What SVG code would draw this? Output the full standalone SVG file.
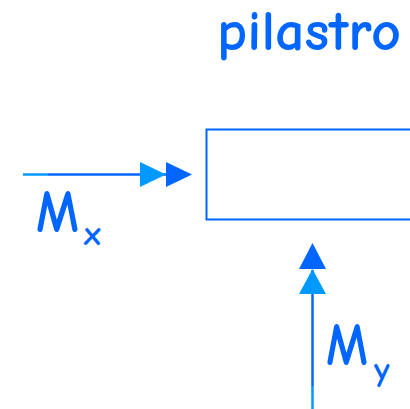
<svg xmlns="http://www.w3.org/2000/svg" width="410" height="409" viewBox="0 0 410 409">
<style>
.t{font-family:"Comic Neue","DejaVu Sans","Noto Sans",sans-serif;fill:#0066FF;font-weight:700}
.dk{stroke:#0066FF;stroke-width:2.5;fill:none}
.lt{stroke:#0099FF;stroke-width:2.5;fill:none}
</style>
<rect width="410" height="409" fill="#fff"/>
<g id="pilastro">
<rect x="206.5" y="129.5" width="220" height="90" fill="none" stroke="#0066FF" stroke-width="2"/>
<text class="t" x="217" y="50" font-size="56" textLength="184" lengthAdjust="spacingAndGlyphs">pilastro</text>
</g>
<g id="connectors">
<line class="lt" x1="23" y1="174.5" x2="48" y2="174.5"/>
<line class="dk" x1="48" y1="174.5" x2="168" y2="174.5"/>
<polygon points="140,162 166,174.5 140,187" fill="#0099FF"/>
<polygon points="166,162 192,174.5 166,187" fill="#0066FF"/>
<line class="lt" x1="312.5" y1="386" x2="312.5" y2="409"/>
<line class="dk" x1="312.5" y1="270" x2="312.5" y2="386"/>
<polygon points="299,294 312.5,269 326,294" fill="#0099FF"/>
<polygon points="299,269 312.5,243 326,269" fill="#0066FF"/>
</g>
<g id="Mx">
<text class="t" x="36" y="232" font-size="60" textLength="43" lengthAdjust="spacingAndGlyphs">M</text>
<text class="t" x="84" y="245" font-size="34">x</text>
</g>
<g id="My">
<text class="t" x="326" y="365" font-size="60" textLength="42" lengthAdjust="spacingAndGlyphs">M</text>
<text class="t" x="374" y="381" font-size="34">y</text>
</g>
</svg>
